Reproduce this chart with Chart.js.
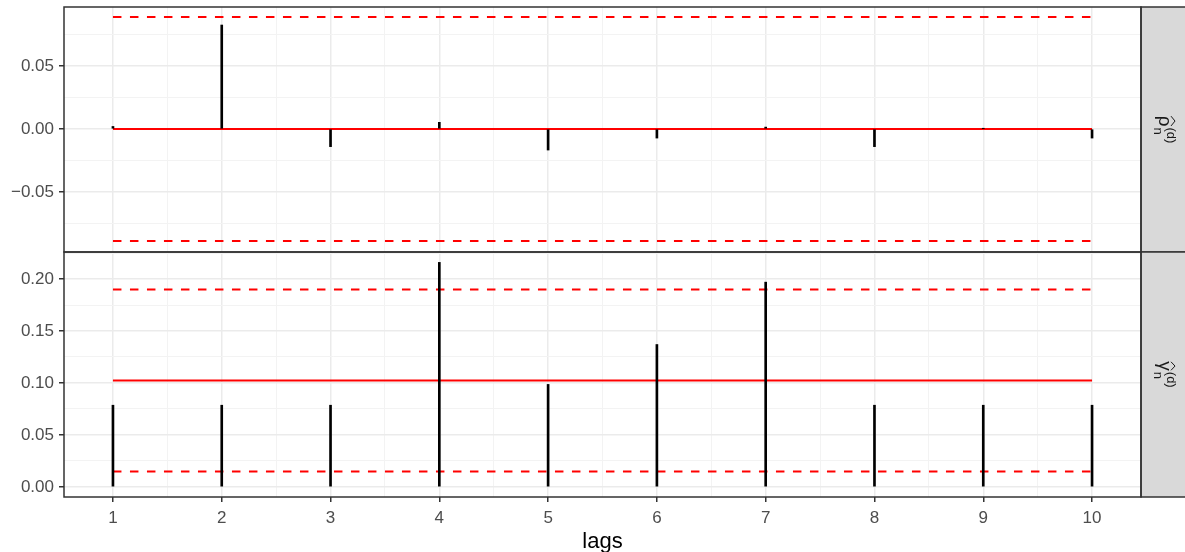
<!DOCTYPE html>
<html>
<head>
<meta charset="utf-8">
<script src="https://cdn.jsdelivr.net/npm/chart.js@4.4.0/dist/chart.umd.min.js"></script>
<style>
  html, body { margin: 0; padding: 0; background: #fff; }
  #grafico { display: block; }
</style>
</head>
<body>
<canvas id="grafico" width="1185" height="552"></canvas>
<script>
// datos
const lags = [1, 2, 3, 4, 5, 6, 7, 8, 9, 10];

const rhoValores = [0.002, 0.0825, -0.014, 0.0053, -0.0167, -0.0072, 0.0015, -0.014, 0.0003, -0.0072];
const rhoMedia = 0;
const rhoBandas = [-0.0889, 0.0889];

const lambdaValores = [0.0786, 0.0786, 0.0786, 0.216, 0.0986, 0.137, 0.197, 0.0786, 0.0786, 0.0786];
const lambdaMedia = 0.1024;
const lambdaBandas = [0.0148, 0.190];

const xTicks = [1, 2, 3, 4, 5, 6, 7, 8, 9, 10];
const xMinor = [1.5, 2.5, 3.5, 4.5, 5.5, 6.5, 7.5, 8.5, 9.5, 10.5];

const rhoTicks = [-0.05, 0, 0.05];
const rhoTickLabels = ['\u22120.05', '0.00', '0.05'];
const rhoMinor = [-0.075, -0.025, 0.025, 0.075];

const lambdaTicks = [0, 0.05, 0.10, 0.15, 0.20];
const lambdaTickLabels = ['0.00', '0.05', '0.10', '0.15', '0.20'];
const lambdaMinor = [0.025, 0.075, 0.125, 0.175, 0.225];

const fuente = "'Liberation Sans', Arial, sans-serif";

function esMayor(lista, v) {
    return lista.some(t => Math.abs(t - v) < 1e-9);
}

function puntos(valores) {
    return lags.map((l, i) => ({ x: l, y: valores[i] }));
}

function horizontal(y) {
    return [{ x: lags[0], y: y }, { x: lags[lags.length - 1], y: y }];
}

function lineaRoja(y, eje, discontinua) {
    return {
        type: 'line',
        data: horizontal(y),
        yAxisID: eje,
        borderColor: '#ff0000',
        borderWidth: 2,
        borderDash: discontinua ? [8.5, 8.5] : [],
        pointRadius: 0,
        fill: false,
        order: 1
    };
}

function barras(valores, eje) {
    return {
        type: 'bar',
        data: puntos(valores),
        yAxisID: eje,
        backgroundColor: '#000000',
        barThickness: 2,
        grouped: false,
        order: 0
    };
}

function ejeY(min, max, mayores, menores, etiquetas) {
    return {
        type: 'linear',
        position: 'left',
        stack: 'paneles',
        stackWeight: 1,
        min: min,
        max: max,
        afterFit: s => {
            s.width = 64;
            s.paddingTop = 0;
            s.paddingBottom = 0;
        },
        afterBuildTicks: s => {
            s.ticks = mayores.concat(menores).sort((a, b) => a - b).map(v => ({ value: v }));
        },
        border: { display: false },
        grid: {
            color: c => c.tick && esMayor(mayores, c.tick.value) ? '#ebebeb' : '#f3f3f3',
            lineWidth: c => c.tick && esMayor(mayores, c.tick.value) ? 1.5 : 1,
            tickColor: c => c.tick && esMayor(mayores, c.tick.value) ? '#333333' : 'rgba(0,0,0,0)',
            tickLength: 5
        },
        ticks: {
            autoSkip: false,
            padding: 5,
            color: '#4d4d4d',
            font: { family: fuente, size: 17 },
            callback: v => {
                const i = mayores.findIndex(t => Math.abs(t - v) < 1e-9);
                return i >= 0 ? etiquetas[i] : '';
            }
        }
    };
}

// paneles y tiras grises a la derecha
const paneles = {
    id: 'paneles',
    afterDraw(chart) {
        const ctx = chart.ctx;
        const a = chart.chartArea;
        const yr = chart.scales.yRho;
        const yl = chart.scales.yLambda;
        const cajas = [
            { top: yr.top, bottom: yr.bottom, base: '\u03c1', },
            { top: yl.top, bottom: yl.bottom, base: '\u03b3', }
        ];
        ctx.save();
        cajas.forEach(c => {
            ctx.fillStyle = '#d9d9d9';
            ctx.fillRect(a.right, c.top, chart.width - a.right + 2, c.bottom - c.top);
            ctx.strokeStyle = '#333333';
            ctx.lineWidth = 1.5;
            ctx.strokeRect(a.left, c.top, a.right - a.left, c.bottom - c.top);
            ctx.strokeRect(a.right, c.top, chart.width - a.right + 4, c.bottom - c.top);

            // etiqueta girada
            ctx.save();
            ctx.translate(a.right + 22, (c.top + c.bottom) / 2);
            ctx.rotate(Math.PI / 2);
            ctx.fillStyle = '#1a1a1a';
            ctx.strokeStyle = '#1a1a1a';
            ctx.font = '19px ' + fuente;
            const wBase = ctx.measureText(c.base).width;
            ctx.font = '13px ' + fuente;
            const wSup = ctx.measureText('(d)').width;
            const total = wBase + 1 + wSup;
            const x0 = -total / 2;
            ctx.textBaseline = 'alphabetic';
            ctx.font = '19px ' + fuente;
            ctx.fillText(c.base, x0, 4);
            // sombrero
            ctx.lineWidth = 1;
            ctx.beginPath();
            ctx.moveTo(x0 + 0.5, -8);
            ctx.lineTo(x0 + wBase / 2, -12);
            ctx.lineTo(x0 + wBase - 0.5, -8);
            ctx.stroke();
            ctx.font = '13px ' + fuente;
            ctx.fillText('n', x0 + wBase + 1, 9);
            ctx.fillText('(d)', x0 + wBase + 1, -4);
            ctx.restore();
        });
        ctx.restore();
    }
};

new Chart(document.getElementById('grafico').getContext('2d'), {
    type: 'bar',
    data: {
        datasets: [
            barras(rhoValores, 'yRho'),
            lineaRoja(rhoMedia, 'yRho', false),
            lineaRoja(rhoBandas[0], 'yRho', true),
            lineaRoja(rhoBandas[1], 'yRho', true),
            barras(lambdaValores, 'yLambda'),
            lineaRoja(lambdaMedia, 'yLambda', false),
            lineaRoja(lambdaBandas[0], 'yLambda', true),
            lineaRoja(lambdaBandas[1], 'yLambda', true)
        ]
    },
    options: {
        responsive: false,
        animation: false,
        layout: { padding: { top: 7, right: 44, left: 0, bottom: 0 } },
        plugins: { legend: { display: false }, tooltip: { enabled: false } },
        scales: {
            x: {
                type: 'linear',
                min: 0.55,
                max: 10.45,
                offset: false,
                afterFit: s => { s.height = 55; },
                afterBuildTicks: s => {
                    s.ticks = xTicks.concat(xMinor).sort((a, b) => a - b).map(v => ({ value: v }));
                },
                border: { display: false },
                grid: {
                    offset: false,
                    color: c => c.tick && esMayor(xTicks, c.tick.value) ? '#ebebeb' : '#f3f3f3',
                    lineWidth: c => c.tick && esMayor(xTicks, c.tick.value) ? 1.5 : 1,
                    tickColor: c => c.tick && esMayor(xTicks, c.tick.value) ? '#333333' : 'rgba(0,0,0,0)',
                    tickLength: 5
                },
                ticks: {
                    autoSkip: false,
                    maxRotation: 0,
                    padding: 6,
                    color: '#4d4d4d',
                    font: { family: fuente, size: 17 },
                    callback: v => esMayor(xTicks, v) ? String(v) : ''
                },
                title: {
                    display: true,
                    text: 'lags',
                    color: '#000000',
                    padding: { top: 0, bottom: -3 },
                    font: { family: fuente, size: 22 }
                }
            },
            // el primero definido queda abajo en la pila
            yLambda: ejeY(-0.0097, 0.226, lambdaTicks, lambdaMinor, lambdaTickLabels),
            yRho: ejeY(-0.0976, 0.0968, rhoTicks, rhoMinor, rhoTickLabels)
        }
    },
    plugins: [paneles]
});
</script>
</body>
</html>
